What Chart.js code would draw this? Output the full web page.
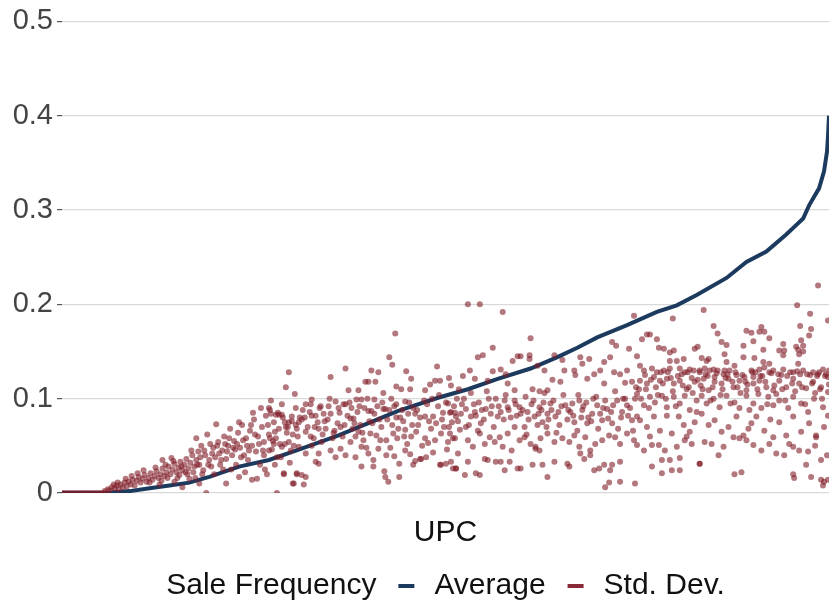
<!DOCTYPE html>
<html>
<head>
<meta charset="utf-8">
<script src="https://cdn.jsdelivr.net/npm/chart.js@4"></script>
<style>
  body { margin: 0; background: #fff; }
  #wrap { width: 833px; height: 607px; position: relative; }
</style>
</head>
<body>
<div id="wrap"><canvas id="chart"></canvas></div>
<script>
// UPCs ranked by average sale frequency (rank 0..771)
const avgRank  = [0, 43, 68, 88, 108, 128, 148, 178, 208, 238, 278, 308, 338, 378, 408, 438, 471, 498, 518, 538, 568, 598, 618, 638, 668, 688, 708, 728, 738, 745, 751, 756, 761, 766, 769, 770, 771];
const avgValue = [0, 0, 0.002, 0.005, 0.008, 0.011, 0.017, 0.028, 0.035, 0.046, 0.061, 0.074, 0.087, 0.101, 0.110, 0.121, 0.132, 0.144, 0.154, 0.165, 0.178, 0.192, 0.199, 0.210, 0.228, 0.245, 0.256, 0.274, 0.284, 0.291, 0.305, 0.314, 0.323, 0.341, 0.362, 0.378, 0.400];

// std. dev. of sale frequency per UPC: [rank, value]
const stdDev = [
  [0,0],[3,0],[6,0],[9,0],[12,0],[15,0],[18,0],[21,0],[24,0],[27,0],[30,0],[33,0],[36,0],[39,0],[42,0],
  [43,0.002],[46,0.004],[48,0.003],[50,0.006],[53,0.005],[55,0.008],[57,0.004],[59,0.009],[61,0.006],[63,0.011],
  [65,0.007],[67,0.012],[69,0.009],[71,0.014],[73,0.008],[75,0.013],[77,0.017],[79,0.011],[81,0.015],[83,0.019],
  [85,0.012],[87,0.016],[89,0.021],[91,0.014],[93,0.018],[95,0.023],[97,0.016],[99,0.02],[101,0.026],[103,0.018],
  [105,0.022],[107,0.028],[109,0.02],[111,0.025],[113,0.031],[115,0.022],[117,0.027],[119,0.033],[121,0.024],[123,0.03],
  [125,0.036],[127,0.026],[129,0.032],[131,0.04],[133,0.028],[135,0.035],[137,0.044],
  [98,0.009],[113,0.012],[128,0.015],[134,0.016],[101,0.035],[110,0.037],[135,0.058],[130,0.045],[121,0.006],[138,0.01],
  [165,0.01],[178,0.017],[191,0.014],
  [52,0.009],[56,0.011],[64,0.015],[70,0.018],[76,0.021],[82,0.024],[88,0.011],[94,0.027],[100,0.013],[106,0.016],
  [112,0.034],[118,0.019],[124,0.022],[132,0.022],
  [104,0.03],[116,0.016],[120,0.028],[126,0.02],[136,0.03],[139,0.038],[141,0.02],[147,0.03],[151,0.042],[156,0.05],
  [160,0.035],[162,0.025],[166,0.044],[168,0.058],[172,0.048],[176,0.052],[180,0.038],[186,0.05],[190,0.072],[198,0.052],
  [203,0.04],[209,0.058],[214,0.065],[219,0.052],[224,0.075],[232,0.062],[236,0.068],[239,0.08],
  [138,0.03],[140,0.05],[142,0.024],[144,0.04],[145,0],[146,0.062],[148,0.035],[150,0.028],[152,0.048],[154,0.038],
  [155,0.073],[157,0.054],[159,0.03],[161,0.045],[163,0.06],[165,0.036],[167,0.05],[169,0.068],[171,0.04],[173,0.055],
  [175,0.03],[177,0.064],[179,0.048],[181,0.072],[183,0.04],[185,0.058],[187,0.035],[189,0.066],[191,0.05],[193,0.078],
  [195,0.044],[197,0.06],[199,0.03],[201,0.07],[203,0.054],[205,0.082],[206,0.02],[208,0.062],[209,0.088],[211,0.046],
  [213,0.075],[215,0.058],[216,0],[218,0.068],[220,0.038],[222,0.08],[224,0.052],[226,0.064],[228,0.128],[229,0.032],
  [231,0.076],[233,0.05],[235,0.09],[237,0.06],
  [153,0.02],[170,0.025],[184,0.022],[196,0.015],[204,0.025],[214,0.03],[223,0.02],[232,0.01],[236,0.02],
  [178,0.075],[192,0.085],[200,0.09],[210,0.098],[221,0.094],[225,0.112],[234,0.105],
  [143,0.045],[149,0.052],[158,0.042],[164,0.052],[174,0.046],[182,0.056],[188,0.045],[194,0.062],[202,0.045],[207,0.072],
  [212,0.055],[217,0.085],[227,0.07],[230,0.045],
  [335,0.169],[329,0.144],[332,0.136],[285,0.132],[270,0.123],[311,0.13],[318,0.128],[346,0.129],[377,0.134],[389,0.122],
  [351,0.121],[305,0.118],[308,0.118],[315,0.118],[336,0.113],[341,0.11],[350,0.11],[365,0.109],[375,0.119],[380,0.119],
  [370,0.115],[391,0.114],[288,0.109],[298,0.109],[251,0.099],[275,0.097],[296,0.099],[301,0.099],[314,0.099],[323,0.106],
  [331,0.1],[345,0.097],[245,0.094],[250,0.094],[260,0.092],[268,0.092],[283,0.094],[285,0.094],[291,0.09],[208,0.09],
  [210,0.084],[215,0.083],[218,0.083],[221,0.083],[231,0.081],[241,0.078],[251,0.082],[255,0.082],[263,0.084],[270,0.084],
  [279,0.085],[290,0.079],[293,0.079],[308,0.087],[311,0.087],[323,0.089],[325,0.089],[336,0.08],[340,0.08],[348,0.084],
  [355,0.084],[365,0.081],[373,0.081],[383,0.085],[390,0.085],[395,0.085],
  [225,0.07],[228,0.075],[235,0.072],[238,0.075],[245,0.065],[250,0.06],[258,0.068],[265,0.068],[273,0.064],[280,0.07],
  [295,0.06],[298,0.065],[303,0.056],[310,0.063],[316,0.061],[321,0.07],[326,0.056],[333,0.063],[338,0.068],[345,0.067],
  [351,0.06],[356,0.065],[365,0.058],[368,0.053],[375,0.056],[381,0.063],[388,0.054],[393,0.058],[398,0.042],
  [208,0.045],[213,0.052],[216,0.038],[221,0.049],[228,0.054],[238,0.049],[245,0.042],[251,0.05],[258,0.042],[261,0.054],
  [270,0.045],[275,0.038],[280,0.047],[285,0.04],[290,0.054],[295,0.038],[301,0.049],[308,0.042],[313,0.035],[318,0.047],
  [326,0.04],[334,0.039],[339,0.031],[345,0.045],[350,0.041],[355,0.034],[360,0.036],[366,0.038],[373,0.043],[380,0.03],
  [386,0.031],[393,0.026],
  [223,0.021],[233,0.01],[236,0.021],[241,0.019],[243,0.009],[245,0.017],[255,0.033],[258,0.031],[301,0.028],[313,0.028],
  [324,0.023],[325,0.017],[328,0.012],[339,0.017],[353,0.03],[361,0.036],[381,0.03],[396,0.026],
  [242,0.088],[247,0.07],[253,0.058],[257,0.075],[262,0.062],[267,0.078],[272,0.058],[277,0.074],[282,0.06],[287,0.082],
  [292,0.068],[297,0.086],[300,0.072],[304,0.09],[306,0.048],[312,0.074],[317,0.092],[320,0.056],[327,0.078],[330,0.048],
  [334,0.092],[337,0.058],[343,0.076],[347,0.052],[353,0.09],[358,0.072],[362,0.05],[367,0.094],[371,0.068],[378,0.092],
  [384,0.07],[387,0.046],[392,0.075],[397,0.1],
  [244,0.08],[249,0.086],[254,0.07],[259,0.09],[264,0.076],[269,0.1],[274,0.066],[278,0.09],[284,0.072],[289,0.096],
  [294,0.074],[299,0.092],[302,0.064],[307,0.1],[309,0.076],[314,0.084],[319,0.078],[322,0.096],[329,0.088],[332,0.072],
  [336,0.094],[342,0.088],[344,0.06],[349,0.096],[352,0.072],[357,0.088],[360,0.08],[364,0.098],[369,0.076],[372,0.1],
  [376,0.074],[379,0.104],[382,0.078],[386,0.096],[389,0.07],[394,0.092],[399,0.11],
  [408,0.2],[420,0.2],[443,0.192],[471,0.164],[433,0.154],[418,0.144],[423,0.146],[458,0.145],[461,0.145],[453,0.14],
  [470,0.146],[470,0.142],[495,0.146],[503,0.141],[521,0.144],[523,0.137],[530,0.142],[553,0.16],[557,0.156],[570,0.153],
  [575,0.188],[545,0.139],[551,0.144],
  [410,0.13],[403,0.124],[415,0.121],[428,0.119],[441,0.131],[446,0.126],[433,0.129],[455,0.109],[448,0.116],[473,0.11],
  [480,0.108],[485,0.106],[488,0.109],[478,0.135],[485,0.13],[505,0.13],[515,0.13],[516,0.125],[528,0.121],[535,0.126],
  [541,0.13],[545,0.116],[555,0.128],[561,0.126],[568,0.13],[566,0.117],[573,0.118],[493,0.12],[501,0.118],
  [388,0.095],[391,0.086],[396,0.081],[401,0.084],[406,0.089],[411,0.081],[415,0.086],[421,0.074],[426,0.089],[431,0.084],
  [438,0.081],[445,0.098],[448,0.091],[455,0.098],[460,0.091],[465,0.07],[468,0.086],[475,0.081],[480,0.091],[483,0.075],
  [488,0.084],[491,0.095],[496,0.081],[500,0.072],[506,0.093],[511,0.086],[515,0.075],[520,0.098],[523,0.088],[528,0.074],
  [533,0.084],[538,0.093],[543,0.077],[548,0.089],[553,0.074],[558,0.098],[563,0.086],[568,0.093],[573,0.077],[576,0.1],
  [390,0.063],[395,0.058],[400,0.067],[408,0.056],[413,0.049],[420,0.063],[425,0.052],[430,0.059],[435,0.054],[440,0.059],
  [443,0.049],[448,0.063],[455,0.07],[460,0.056],[465,0.059],[471,0.052],[476,0.049],[481,0.058],[488,0.063],[495,0.054],
  [503,0.058],[510,0.054],[515,0.061],[520,0.049],[526,0.059],[531,0.045],[536,0.052],[543,0.056],[550,0.061],[556,0.059],
  [561,0.052],[568,0.063],[575,0.056],
  [391,0.033],[396,0.026],[405,0.019],[416,0.021],[420,0.019],[408,0.033],[425,0.036],[428,0.035],[436,0.033],[441,0.033],
  [450,0.033],[445,0.024],[458,0.026],[461,0.026],[473,0.03],[483,0.03],[488,0.017],[495,0.033],[508,0.031],[510,0.028],
  [521,0.042],[525,0.036],[531,0.04],[535,0.024],[540,0.026],[545,0.03],[551,0.024],[553,0.03],[561,0.033],
  [546,0.006],[550,0.011],[561,0.012],[576,0.01],[476,0.047],[480,0.045],
  [398,0.076],[404,0.1],[409,0.072],[414,0.094],[418,0.066],[424,0.078],[429,0.1],[434,0.07],[439,0.092],[444,0.078],
  [449,0.088],[452,0.045],[457,0.082],[463,0.088],[467,0.062],[472,0.094],[478,0.072],[482,0.088],[487,0.07],[492,0.088],
  [497,0.064],[502,0.092],[508,0.078],[513,0.095],[518,0.066],[524,0.092],[529,0.08],[534,0.1],[539,0.068],[544,0.09],
  [549,0.079],[554,0.093],[559,0.068],[564,0.1],[569,0.082],[574,0.066],
  [402,0.094],[406,0.07],[411,0.106],[416,0.082],[419,0.096],[422,0.088],[427,0.108],[432,0.092],[436,0.1],[441,0.086],
  [446,0.104],[451,0.08],[456,0.094],[461,0.084],[466,0.102],[469,0.078],[474,0.098],[479,0.084],[484,0.096],[489,0.078],
  [494,0.098],[499,0.086],[504,0.104],[509,0.088],[514,0.082],[519,0.104],[522,0.08],[527,0.096],[532,0.076],[537,0.102],
  [541,0.084],[546,0.098],[552,0.086],[556,0.108],[562,0.08],[566,0.1],[571,0.09],[577,0.112],
  [760,0.22],[739,0.199],[752,0.19],[770,0.183],[645,0.194],[614,0.185],[655,0.177],[659,0.169],[688,0.172],[693,0.17],
  [701,0.171],[703,0.176],[706,0.171],[742,0.177],[753,0.174],[751,0.167],[695,0.161],[711,0.164],[583,0.163],[588,0.168],
  [591,0.168],[743,0.162],[745,0.156],[738,0.155],[663,0.16],[668,0.157],[685,0.156],[598,0.163],[600,0.154],[605,0.153],
  [611,0.149],[615,0.151],
  [636,0.153],[639,0.155],[643,0.143],[650,0.142],[648,0.14],[666,0.147],[668,0.139],[685,0.144],[696,0.143],[705,0.152],
  [705,0.139],[711,0.137],[721,0.151],[725,0.158],[726,0.151],[725,0.146],[740,0.152],[741,0.147],[745,0.15],[740,0.137],
  [578,0.145],[581,0.135],[611,0.14],[618,0.14],[625,0.142],[631,0.131],[641,0.13],[655,0.131],[666,0.13],[676,0.135],
  [686,0.123],[693,0.13],[701,0.131],[706,0.133],[715,0.13],[725,0.131],[735,0.128],[745,0.13],[755,0.128],[760,0.126],
  [765,0.131],[770,0.123],
  [585,0.13],[593,0.132],[598,0.128],[605,0.13],[611,0.132],[621,0.132],[626,0.128],[635,0.13],[641,0.128],[646,0.132],
  [651,0.13],[656,0.123],[665,0.126],[671,0.13],[678,0.125],[695,0.123],
  [581,0.119],[588,0.116],[595,0.123],[601,0.119],[608,0.121],[615,0.116],[621,0.119],[630,0.112],[636,0.118],[645,0.121],
  [650,0.109],[656,0.118],[663,0.116],[670,0.121],[675,0.112],[681,0.119],[688,0.109],[695,0.116],[701,0.119],[708,0.112],
  [715,0.109],[721,0.119],[728,0.112],[735,0.121],[741,0.116],[748,0.111],[755,0.118],[763,0.112],[770,0.107],
  [578,0.105],[585,0.093],[591,0.102],[596,0.096],[603,0.103],[608,0.091],[615,0.102],[621,0.095],[626,0.103],[631,0.088],
  [638,0.098],[643,0.103],[648,0.095],[655,0.1],[661,0.091],[668,0.103],[676,0.096],[681,0.09],[688,0.103],[695,0.095],
  [703,0.09],[710,0.102],[715,0.093],[721,0.098],[730,0.09],[735,0.102],[743,0.095],[750,0.086],[756,0.1],[765,0.091],
  [770,0.082],
  [578,0.081],[581,0.077],[588,0.07],[595,0.081],[601,0.066],[608,0.082],[613,0.063],[620,0.081],[625,0.072],[631,0.065],
  [636,0.075],[643,0.084],[650,0.072],[656,0.077],[663,0.065],[670,0.07],[678,0.081],[685,0.061],[693,0.074],[698,0.081],
  [706,0.066],[715,0.059],[721,0.075],[728,0.061],[735,0.081],[743,0.065],[751,0.074],[758,0.059],[766,0.07],
  [578,0.051],[585,0.045],[593,0.051],[600,0.051],[603,0.035],[611,0.035],[618,0.049],[621,0.037],[626,0.056],[633,0.052],
  [641,0.031],[646,0.054],[653,0.052],[665,0.049],[675,0.059],[681,0.058],[688,0.056],[695,0.051],[703,0.045],[711,0.052],
  [718,0.042],[726,0.04],[735,0.049],[741,0.045],[750,0.044],[758,0.061],[763,0.035],
  [593,0.028],[603,0.021],[613,0.024],[621,0.024],[641,0.031],[676,0.02],[683,0.022],[735,0.02],[736,0.016],[753,0.017],
  [763,0.014],[766,0.012],[770,0.014],[765,0.008],
  [580,0.11],[586,0.125],[590,0.09],[597,0.112],[602,0.128],[607,0.1],[612,0.122],[617,0.092],[623,0.126],[628,0.11],
  [633,0.122],[638,0.086],[642,0.114],[647,0.126],[652,0.098],[658,0.127],[662,0.104],[667,0.122],[672,0.095],[677,0.128],
  [682,0.106],[687,0.118],[691,0.088],[697,0.128],[700,0.105],[704,0.124],[709,0.094],[713,0.127],[718,0.105],[723,0.125],
  [727,0.098],[732,0.128],[737,0.108],[742,0.126],[747,0.094],[752,0.125],[757,0.106],[761,0.128],[764,0.1],[768,0.126],
  [771,0.115],
  [591,0.06],[606,0.045],[628,0.06],[660,0.04],[690,0.068],[712,0.078],[731,0.052],[748,0.03],[757,0.05],[769,0.04],
  [582,0.1],[587,0.11],[592,0.12],[599,0.104],[604,0.116],[609,0.128],[614,0.108],[619,0.124],[624,0.114],[629,0.128],
  [634,0.106],[639,0.12],[644,0.11],[649,0.124],[654,0.112],[659,0.13],[664,0.11],[669,0.126],[674,0.118],[679,0.112],
  [684,0.125],[689,0.115],[694,0.128],[699,0.11],[702,0.124],[707,0.118],[711,0.128],[716,0.114],[720,0.126],[724,0.11],
  [729,0.124],[734,0.116],[739,0.129],[744,0.112],[749,0.126],[754,0.116],[759,0.124],[762,0.11],[767,0.124],[771,0.13]
];

const yTicks = [0, 0.1, 0.2, 0.3, 0.4, 0.5];
const legendTitle = 'Sale Frequency';
const seriesNames = ['Average', 'Std. Dev.'];
const seriesColors = ['#1c3a5e', '#8a2a36'];

const font = "'Liberation Sans', Arial, Helvetica, sans-serif";

// ggplot-style legend on one line, centred under the panel
const inlineLegend = {
  id: 'inlineLegend',
  afterDraw(chart) {
    const ctx = chart.ctx;
    const area = chart.chartArea;
    ctx.save();
    ctx.font = '30px ' + font;
    ctx.textBaseline = 'middle';
    const dashW = 16, gapBefore = 22, gapAfter = 20;
    const wTitle = ctx.measureText(legendTitle).width;
    const wNames = seriesNames.map(n => ctx.measureText(n).width);
    let total = wTitle;
    wNames.forEach(w => { total += gapBefore + dashW + gapAfter + w; });
    let x = (area.left + area.right) / 2 - total / 2;
    const y = chart.height - 21;
    ctx.fillStyle = '#111';
    ctx.fillText(legendTitle, x, y);
    x += wTitle;
    seriesNames.forEach((name, i) => {
      x += gapBefore;
      ctx.fillStyle = seriesColors[i];
      ctx.fillRect(x, y - 2, dashW, 4);
      x += dashW + gapAfter;
      ctx.fillStyle = '#111';
      ctx.fillText(name, x, y);
      x += wNames[i];
    });
    ctx.restore();
  }
};

new Chart(document.getElementById('chart'), {
  data: {
    datasets: [{
      type: 'line',
      label: seriesNames[0],
      data: avgRank.map((r, i) => ({ x: r, y: avgValue[i] })),
      borderColor: seriesColors[0],
      borderWidth: 4,
      pointRadius: 0,
      tension: 0,
      order: 1
    }, {
      type: 'scatter',
      label: seriesNames[1],
      data: stdDev.map(p => ({ x: p[0], y: p[1] })),
      backgroundColor: 'rgba(128,28,40,0.6)',
      borderWidth: 0,
      pointRadius: 3,
      order: 0
    }]
  },
  options: {
    responsive: true,
    maintainAspectRatio: false,
    animation: false,
    layout: { padding: { top: 2, right: 0, left: 0, bottom: 56 } },
    scales: {
      x: {
        type: 'linear',
        min: 0,
        max: 771,
        grid: { display: false, drawTicks: false },
        border: { display: false },
        ticks: { display: false },
        title: {
          display: true,
          text: 'UPC',
          color: '#111',
          font: { family: font, size: 30 },
          padding: { top: 22, bottom: 0 }
        }
      },
      y: {
        min: 0,
        max: 0.5,
        afterBuildTicks: s => { s.ticks = yTicks.map(v => ({ value: v })); },
        afterFit: s => { s.width = 62; },
        border: { display: false },
        grid: { color: '#d9d9d9', lineWidth: 1.2, tickLength: 5, tickColor: '#555' },
        ticks: {
          color: '#444',
          padding: 4,
          font: { family: font, size: 29 },
          callback: v => v === 0 ? '0' : v.toFixed(1)
        }
      }
    },
    plugins: {
      tooltip: { enabled: false },
      legend: { display: false }
    }
  },
  plugins: [inlineLegend]
});
</script>
</body>
</html>
